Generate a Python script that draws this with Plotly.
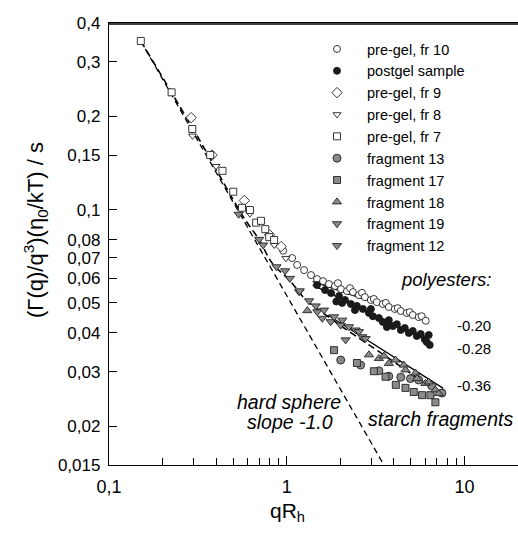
import plotly.graph_objects as go

# ---------------- data ----------------
PREGEL10_X = [0.954, 1.072, 1.144, 1.252, 1.370, 1.481, 1.600, 1.729, 1.868, 1.94, 2.019, 2.182, 2.27, 2.357,
              2.547, 2.65, 2.753, 2.974, 3.09, 3.214, 3.473, 3.61, 3.752, 4.055, 4.21, 4.381, 4.734, 4.92,
              5.117, 5.528, 5.74, 6.053]
PREGEL10_Y = [0.0737, 0.0698, 0.0663, 0.0638, 0.0615, 0.0597, 0.0588, 0.0575, 0.0567, 0.0579, 0.0554, 0.0546,
              0.0558, 0.0542, 0.0530, 0.0539, 0.0522, 0.0511, 0.0515, 0.0503, 0.0496, 0.0500, 0.0485, 0.0478,
              0.0481, 0.0471, 0.0464, 0.0467, 0.0457, 0.0450, 0.0453, 0.0438]

POSTGEL_X = [1.481, 1.642, 1.775, 1.90, 1.967, 2.05, 2.126, 2.297, 2.419, 2.482, 2.682, 2.900, 2.974, 3.053,
             3.299, 3.473, 3.657, 3.752, 3.953, 4.162, 4.381, 4.614, 4.859, 5.117, 5.388, 5.673, 5.974, 6.131,
             6.291, 6.373]
POSTGEL_Y = [0.0571, 0.0550, 0.0538, 0.0505, 0.0526, 0.0500, 0.0511, 0.0496, 0.0474, 0.0489, 0.0478, 0.0464,
             0.0478, 0.0453, 0.0447, 0.0434, 0.0418, 0.0440, 0.0421, 0.0427, 0.0409, 0.0415, 0.0400, 0.0406,
             0.0391, 0.0397, 0.0382, 0.0374, 0.0394, 0.0366]

PREGEL9_X = [0.290, 0.38, 0.577, 0.80, 0.93]
PREGEL9_Y = [0.198, 0.150, 0.107, 0.083, 0.076]

PREGEL8_X = [0.295, 0.40, 0.62, 0.850, 0.989]
PREGEL8_Y = [0.173, 0.138, 0.097, 0.0769, 0.0697]

PREGEL7_X = [0.151, 0.225, 0.294, 0.371, 0.435, 0.500, 0.560, 0.621, 0.673, 0.716, 0.757, 0.797, 0.849]
PREGEL7_Y = [0.350, 0.239, 0.182, 0.150, 0.1334, 0.1142, 0.1014, 0.0997, 0.0908, 0.092, 0.0865, 0.0815, 0.0798]

FRAG13_X = [2.011, 2.604, 3.298, 3.752, 4.381, 4.966, 5.528, 6.540, 7.467]
FRAG13_Y = [0.0327, 0.0315, 0.0302, 0.0290, 0.0288, 0.0285, 0.0282, 0.0270, 0.0256]

FRAG17_X = [1.845, 2.482, 3.092, 3.596, 4.108, 4.656, 5.183, 5.768, 6.431, 6.859]
FRAG17_Y = [0.0352, 0.0320, 0.0301, 0.0289, 0.0272, 0.0266, 0.0258, 0.0252, 0.0252, 0.0239]

FRAG18_X = [1.306, 2.900, 3.298, 3.518, 3.752, 4.091, 4.554, 4.656, 5.298, 5.40, 6.027, 6.290, 6.859, 7.155]
FRAG18_Y = [0.0472, 0.0340, 0.0331, 0.0337, 0.0319, 0.0327, 0.0315, 0.0304, 0.0297, 0.0285, 0.0275, 0.0278,
            0.0262, 0.0255]

FRAG19_X = [0.536, 0.700, 0.875, 1.041, 1.174, 1.335, 1.486, 1.621, 1.767, 1.845, 2.053, 2.239, 2.441, 2.658]
FRAG19_Y = [0.0966, 0.0802, 0.0654, 0.0600, 0.0543, 0.0508, 0.0468, 0.0474, 0.0435, 0.0451, 0.0440, 0.0419,
            0.0409, 0.0389]

FRAG12_X = [0.737, 0.979, 1.184, 1.456, 1.586, 2.011, 2.145, 2.547, 2.777]
FRAG12_Y = [0.0769, 0.0635, 0.0547, 0.0489, 0.0446, 0.0424, 0.0380, 0.0404, 0.0384]

# model / fit lines
HARD_SPHERE_X = [0.15, 3.52]
HARD_SPHERE_Y = [0.352, 0.015]
CROSSOVER_X = [0.151, 0.323, 0.562, 0.700, 0.828, 1.032, 1.285, 1.663, 2.099, 2.900, 4.270, 7.155]
CROSSOVER_Y = [0.350, 0.1677, 0.0960, 0.0798, 0.0672, 0.0593, 0.0511, 0.0457, 0.0415, 0.0366, 0.0315, 0.0256]
FIT020_X = [1.4, 6.2]
FIT020_Y = [0.0587, 0.0436]
FIT028_X = [1.4, 6.4]
FIT028_Y = [0.0571, 0.0374]
FIT036_X = [1.7, 7.6]
FIT036_Y = [0.0457, 0.0265]

X_TICKS = [0.1, 1, 10]
X_TICKTEXT = ["0,1", "1", "10"]
X_MINOR = [0.2, 0.3, 0.4, 0.5, 0.6, 0.7, 0.8, 0.9, 2, 3, 4, 5, 6, 7, 8, 9]
Y_TICKS = [0.015, 0.02, 0.03, 0.04, 0.05, 0.06, 0.07, 0.08, 0.1, 0.15, 0.2, 0.3, 0.4]
Y_TICKTEXT = ["0,015", "0,02", "0,03", "0,04", "0,05", "0,06", "0,07", "0,08", "0,1", "0,15", "0,2", "0,3", "0,4"]

# ---------------- figure ----------------
W, H = 518, 536
ML, MR, MT, MB = 109, 0, 23, 71
FONT = "Liberation Sans, Arial, Helvetica, sans-serif"
GRAY = "#8a8a8a"
EDGE = "#222222"

fig = go.Figure()

# lines first (behind markers)
line_style = dict(color="black", width=1.3)
fig.add_trace(go.Scatter(x=HARD_SPHERE_X, y=HARD_SPHERE_Y, mode="lines", showlegend=False,
                         line=dict(color="black", width=1.3, dash="6px,4px")))
fig.add_trace(go.Scatter(x=CROSSOVER_X, y=CROSSOVER_Y, mode="lines", showlegend=False,
                         line=dict(color="black", width=1.6, dash="7px,4px", shape="spline")))
for fx, fy in [(FIT020_X, FIT020_Y), (FIT028_X, FIT028_Y), (FIT036_X, FIT036_Y)]:
    fig.add_trace(go.Scatter(x=fx, y=fy, mode="lines", showlegend=False, line=line_style))


def add_series(name, xs, ys, symbol, fill, size=7, edge=EDGE, lw=0.9):
    fig.add_trace(go.Scatter(
        x=xs, y=ys, mode="markers", name=name,
        marker=dict(symbol=symbol, size=size, color=fill, line=dict(color=edge, width=lw))))


add_series("pre-gel, fr 10", PREGEL10_X, PREGEL10_Y, "circle", "white", 7)
add_series("postgel sample", POSTGEL_X, POSTGEL_Y, "circle", "#1a1a1a", 7, "#1a1a1a")
add_series("pre-gel, fr 9", PREGEL9_X, PREGEL9_Y, "diamond", "white", 8)
add_series("pre-gel, fr 8", PREGEL8_X, PREGEL8_Y, "triangle-down", "white", 7)
add_series("pre-gel, fr 7", PREGEL7_X, PREGEL7_Y, "square", "white", 7)
add_series("fragment 13", FRAG13_X, FRAG13_Y, "circle", GRAY, 8)
add_series("fragment 17", FRAG17_X, FRAG17_Y, "square", GRAY, 7)
add_series("fragment 18", FRAG18_X, FRAG18_Y, "triangle-up", GRAY, 8)
add_series("fragment 19", FRAG19_X, FRAG19_Y, "triangle-down", GRAY, 8)
add_series("fragment 12", FRAG12_X, FRAG12_Y, "triangle-down", GRAY, 8)

PW = W - ML - MR
PH = H - MT - MB


def px(xp):
    return (xp - ML) / PW


def py(yp):
    return (H - MB - yp) / PH


ann = []
italic = dict(family=FONT, size=19.5, color="black")
plain = dict(family=FONT, size=15, color="black")
ann.append(dict(text="<i>polyesters:</i>", x=px(446), y=py(280), font=dict(family=FONT, size=18.5, color="black")))
ann.append(dict(text="-0.20", x=px(455), y=py(325), xanchor="left", font=plain))
ann.append(dict(text="-0.28", x=px(455), y=py(348), xanchor="left", font=plain))
ann.append(dict(text="-0.36", x=px(455), y=py(385), xanchor="left", font=plain))
ann.append(dict(text="<i>starch fragments</i>", x=px(440), y=py(419), font=italic))
ann.append(dict(text="<i>hard sphere</i>", x=px(289), y=py(402), font=italic))
ann.append(dict(text="<i>slope -1.0</i>", x=px(290), y=py(422), font=italic))
ann.append(dict(text="qR<sub>h</sub>", x=px(287), y=py(512), font=dict(family=FONT, size=21, color="black")))
ann.append(dict(text="(Γ(q)/q<sup>3</sup>)(η<sub>0</sub>/kT) / s", x=px(35), y=py(230), textangle=-90,
                font=dict(family=FONT, size=22, color="black")))
for a in ann:
    a.update(xref="paper", yref="paper", showarrow=False)
    a.setdefault("xanchor", "center")
    a.setdefault("yanchor", "middle")

fig.update_layout(
    width=W, height=H,
    margin=dict(l=ML, r=MR, t=MT, b=MB, pad=0),
    paper_bgcolor="white", plot_bgcolor="white",
    font=dict(family=FONT, size=16, color="black"),
    annotations=ann,
    shapes=[dict(type="line", xref="paper", yref="paper", x0=0, x1=1, y0=0.998, y1=0.998, layer="above",
                 line=dict(color="black", width=1.5))],
    legend=dict(x=px(307), y=py(33), xanchor="left", yanchor="top", bgcolor="rgba(0,0,0,0)",
                font=dict(family=FONT, size=14.5, color="black"), tracegroupgap=0, itemwidth=50),
    xaxis=dict(type="log", range=[-1, 1.30103], showline=True, linecolor="black", linewidth=1.3,
               mirror=True, showgrid=False, zeroline=False, ticks="inside", ticklen=9, tickwidth=1.2,
               tickcolor="black", tickvals=X_TICKS, ticktext=X_TICKTEXT, ticklabelstandoff=5,
               tickfont=dict(family=FONT, size=18),
               minor=dict(tickvals=X_MINOR, ticks="inside", ticklen=7, tickwidth=1.1, tickcolor="black",
                          showgrid=False)),
    yaxis=dict(type="log", range=[-1.823909, -0.397940], showline=True, linecolor="black", linewidth=1.3,
               showgrid=False, zeroline=False, ticks="inside", ticklen=8, tickwidth=1.2, tickcolor="black",
               tickvals=Y_TICKS, ticktext=Y_TICKTEXT, ticklabelstandoff=4, tickfont=dict(family=FONT, size=17)),
)

fig.write_html("out.html", config={"displayModeBar": False},
               post_script="document.body.style.margin='0px';document.body.style.overflow='hidden';")
